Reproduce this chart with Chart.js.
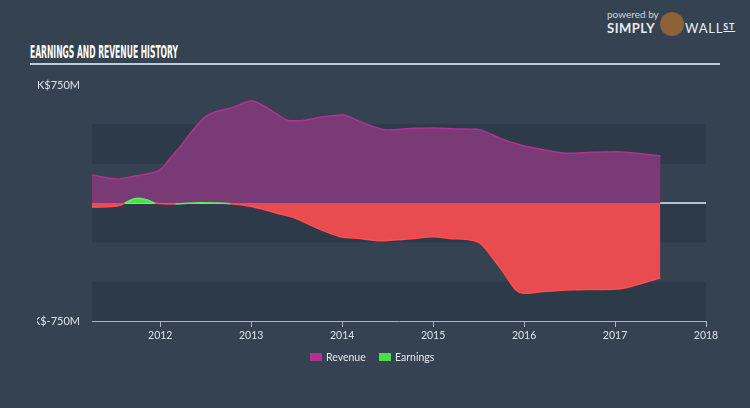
<!DOCTYPE html>
<html>
<head>
<meta charset="utf-8">
<script src="https://cdn.jsdelivr.net/npm/chart.js@4"></script>
<style>
  body { margin: 0; background: #344252; width: 750px; height: 408px; overflow: hidden; font-family: Lato, sans-serif; }
  #wrap { position: absolute; left: 37px; top: 0; width: 713px; height: 408px; }
  #title { position: absolute; left: 30px; top: 42px; color: #fff; font: bold 17.5px "DejaVu Sans Condensed", "DejaVu Sans", sans-serif; font-stretch: condensed; white-space: nowrap; transform-origin: 0 0; }
  #rule { position: absolute; left: 30px; top: 63px; width: 690px; height: 2px; background: #c3ccd6; }
  #logo { position: absolute; left: 607px; top: 8px; color: #e8ecf0; }
  #logo .pb { position: absolute; left: 0; top: 0; font: 10px Lato, sans-serif; color: #d0d6dc; white-space: nowrap; }
  #logo .sp { position: absolute; left: 0; top: 12px; font: bold 13px Lato, sans-serif; white-space: nowrap; letter-spacing: 0.5px; }
  #logo .bull { position: absolute; left: 53px; top: 4px; width: 24px; height: 24px; border-radius: 50%; background: #8d6236; }
  #logo .ws { position: absolute; left: 78px; top: 12px; font: 13px Lato, sans-serif; white-space: nowrap; letter-spacing: 0.8px; }
  #logo .ws u { font-size: 9px; font-weight: bold; vertical-align: 3px; }
  #legend { position: absolute; top: 352px; left: 310px; font: 10.5px Lato, sans-serif; color: #e6e9ec; }
  #legend span.item { position: absolute; white-space: nowrap; line-height: 11px; }
  #legend i { display: inline-block; width: 12px; height: 8px; margin-right: 4px; }
</style>
</head>
<body>
<div id="title">EARNINGS AND REVENUE HISTORY</div>
<div id="rule"></div>
<div id="logo">
  <span class="pb">powered by</span>
  <span class="sp">SIMPLY</span>
  <span class="bull"></span>
  <span class="ws">WALL<u>ST</u></span>
</div>
<div id="wrap"><canvas id="c"></canvas></div>
<div id="legend">
  <span class="item" style="left:0"><i style="background:#b0338f"></i>Revenue</span>
  <span class="item" style="left:69px"><i style="background:#4be04b"></i>Earnings</span>
</div>
<script>
const yearTicks = [2012, 2013, 2014, 2015, 2016, 2017, 2018];
const valueTicks = [-750, 750];
const bandEdges = [750, 500, 250, 0, -250, -500, -750];

const revenueDates = [2011.25, 2011.52, 2011.72, 2011.89, 2012.0, 2012.11, 2012.22, 2012.36, 2012.5, 2012.61, 2012.77, 2012.94, 2013.01, 2013.12, 2013.27, 2013.43, 2013.54, 2013.76, 2014.0, 2014.2, 2014.42, 2014.5, 2014.79, 2015.01, 2015.3, 2015.49, 2015.6, 2015.74, 2015.96, 2016.13, 2016.35, 2016.48, 2016.74, 2017.01, 2017.23, 2017.5];
const revenueValues = [178, 153, 172, 189, 210, 286, 358, 464, 549, 580, 602, 640, 648, 623, 570, 523, 523, 545, 560, 517, 472, 464, 475, 477, 470, 468, 447, 411, 369, 348, 324, 316, 322, 326, 316, 299];

const earningsDates = [2011.25, 2011.45, 2011.56, 2011.61, 2011.75, 2011.86, 2011.94, 2012.17, 2012.44, 2012.77, 2012.99, 2013.16, 2013.32, 2013.49, 2013.65, 2013.82, 2013.98, 2014.2, 2014.42, 2014.57, 2014.79, 2015.0, 2015.19, 2015.41, 2015.52, 2015.63, 2015.78, 2015.91, 2015.99, 2016.19, 2016.46, 2016.74, 2017.03, 2017.23, 2017.5];
const earningsValues = [-27, -23, -15, 0, 30, 19, 0, -6, 2, -4, -20, -44, -70, -97, -140, -182, -214, -225, -240, -235, -225, -214, -225, -235, -256, -330, -447, -553, -574, -564, -553, -550, -547, -521, -475];

function toPoints(dates, values) {
  return dates.map((d, i) => ({ x: d, y: values[i] }));
}

// squeeze the title to the reference width
const title = document.getElementById("title");
title.style.transform = "scaleX(" + (148 / title.offsetWidth) + ")";

const bands = {
  id: "bands",
  beforeDatasetsDraw(chart) {
    const { ctx, chartArea: a, scales: { y } } = chart;
    ctx.save();
    ctx.fillStyle = "#2d3a49";
    for (let i = 1; i < bandEdges.length - 1; i += 2) {
      const top = y.getPixelForValue(bandEdges[i]);
      const bot = y.getPixelForValue(bandEdges[i + 1]);
      ctx.fillRect(a.left, top, a.right - a.left, bot - top);
    }
    const z = y.getPixelForValue(0);
    ctx.fillStyle = "#b4c0cc";
    ctx.fillRect(a.left, z - 1, a.right - a.left, 2);
    ctx.restore();
  },
};

const red = "#e84c4f";
const green = "#4be04b";

new Chart(document.getElementById("c"), {
  type: "line",
  data: {
    datasets: [
      {
        label: "Earnings",
        data: toPoints(earningsDates, earningsValues),
        borderColor: "#ff4d50",
        borderWidth: 1.5,
        fill: { target: "origin", above: green, below: red },
        pointRadius: 0,
        cubicInterpolationMode: "monotone",
        segment: {
          borderColor: (c) => (c.p0.parsed.y > 0 || c.p1.parsed.y > 0 ? "#5cf05c" : "#ff4d50"),
        },
        order: 1,
      },
      {
        label: "Revenue",
        data: toPoints(revenueDates, revenueValues),
        borderColor: "#b0338f",
        backgroundColor: "#7a3a76",
        borderWidth: 1.5,
        fill: "origin",
        pointRadius: 0,
        cubicInterpolationMode: "monotone",
        order: 2,
      },
    ],
  },
  options: {
    responsive: true,
    maintainAspectRatio: false,
    animation: false,
    layout: { padding: { top: 85, right: 44, bottom: 57, left: 0 } },
    plugins: { legend: { display: false }, tooltip: { enabled: false } },
    scales: {
      x: {
        type: "linear",
        min: 2011.25,
        max: 2018,
        afterBuildTicks: (s) => { s.ticks = yearTicks.map((v) => ({ value: v })); },
        afterFit: (s) => { s.height = 30; },
        ticks: { color: "#dde2e7", font: { family: "Lato", size: 10.5 }, padding: 2, callback: (v) => String(v), maxRotation: 0 },
        grid: { display: true, drawOnChartArea: false, drawTicks: true, tickLength: 6, color: "#a9b5c2", lineWidth: 1 },
        border: { display: true, color: "#a9b5c2", width: 1 },
      },
      y: {
        min: -750,
        max: 750,
        afterBuildTicks: (s) => { s.ticks = valueTicks.map((v) => ({ value: v })); },
        afterFit: (s) => { s.width = 55; },
        ticks: { color: "#dde2e7", font: { family: "Lato", size: 11 }, padding: 4, callback: (v) => "HK$" + v + "M" },
        grid: { display: false },
        border: { display: false },
      },
    },
  },
  plugins: [bands],
});
</script>
</body>
</html>
